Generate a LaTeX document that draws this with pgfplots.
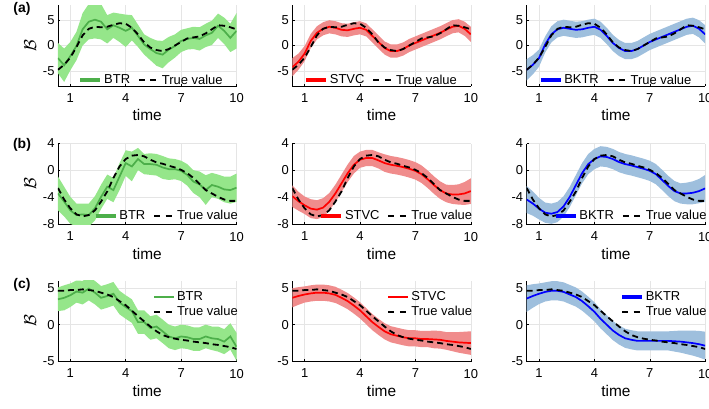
\documentclass[border=0pt]{standalone}
\usepackage{fontspec}
\setmainfont{Liberation Sans}
\usepackage{pgfplots}
\usepackage{pgfplotstable}
\pgfplotsset{compat=1.18}

\definecolor{GLine}{HTML}{4DAF4A}
\definecolor{GBand}{HTML}{95E68A}
\definecolor{RLine}{HTML}{FF0000}
\definecolor{RBand}{HTML}{F08C8C}
\definecolor{BLine}{HTML}{0000FF}
\definecolor{BBand}{HTML}{9EBFDD}

% t, true value, then mean (m) and half width (h) of BTR (b), STVC (s), BKTR (k)
\pgfplotstableread{
t tv bm bh sm sh km kh
0.3333 -4.8 -2.5 3.0 -4.3 1.8 -4.8 2.1
0.6667 -3.8 -3.9 3.3 -3.2 1.6 -3.8 1.9
1.0 -2.4 -2.1 2.8 -1.6 1.5 -2.5 1.7
1.3333 -0.3 -0.1 2.8 0.9 1.4 0.2 1.6
1.6667 2.0 3.2 3.2 2.5 1.3 2.2 1.6
2.0 3.3 4.7 3.5 3.3 1.3 3.2 1.6
2.3333 3.7 5.1 3.7 3.7 1.3 3.5 1.6
2.6667 3.6 4.7 3.5 3.5 1.3 3.3 1.6
3.0 3.7 3.2 2.8 3.1 1.3 3.1 1.6
3.3333 4.1 4.0 2.5 3.0 1.3 3.2 1.6
3.6667 4.4 3.5 2.8 3.3 1.3 3.5 1.6
4.0 4.3 2.9 3.2 3.5 1.3 3.7 1.6
4.3333 3.5 3.5 2.5 3.1 1.3 3.1 1.6
4.6667 2.2 1.9 2.2 1.9 1.3 1.9 1.6
5.0 0.6 0.2 2.0 0.7 1.3 0.5 1.6
5.3333 -0.4 -0.7 2.2 -0.5 1.3 -0.5 1.6
5.6667 -0.9 -1.5 2.5 -1.1 1.3 -1.1 1.6
6.0 -1.1 -1.8 2.7 -1.1 1.3 -1.1 1.6
6.3333 -0.7 -0.8 2.5 -0.7 1.3 -0.7 1.6
6.6667 0.0 -0.1 2.3 0.0 1.3 0.0 1.6
7.0 0.7 0.9 2.2 0.5 1.3 0.7 1.6
7.3333 1.4 1.3 2.1 1.0 1.3 1.2 1.6
7.6667 1.6 1.5 2.2 1.5 1.3 1.7 1.6
8.0 1.8 1.3 2.3 2.0 1.3 2.2 1.6
8.3333 2.4 2.0 2.3 2.5 1.3 2.7 1.6
8.6667 3.2 2.5 2.4 3.1 1.3 3.2 1.6
9.0 4.0 3.9 2.4 3.7 1.3 3.7 1.6
9.3333 3.9 2.9 2.6 3.9 1.3 3.9 1.6
9.6667 3.6 1.5 2.8 3.3 1.4 3.3 1.7
10.0 3.2 2.9 3.5 2.2 1.5 2.2 1.8
}\tabA

\pgfplotstableread{
t tv bm bh sm sh km kh
0.3333 -2.6 -3.4 2.5 -3.8 1.6 -4.3 2.0
0.6667 -4.3 -4.6 2.2 -4.55 1.4 -4.9 1.8
1.0 -5.6 -5.9 2.0 -5.15 1.3 -5.65 1.6
1.3333 -6.5 -6.6 1.7 -5.65 1.4 -6.25 1.5
1.6667 -6.8 -6.5 1.6 -5.8 1.4 -6.4 1.5
2.0 -6.6 -6.6 1.7 -5.5 1.4 -6.15 1.5
2.3333 -5.9 -5.6 1.8 -4.65 1.3 -5.3 1.5
2.6667 -4.6 -3.9 1.8 -3.4 1.3 -3.9 1.5
3.0 -3.1 -2.4 1.8 -1.9 1.3 -2.15 1.5
3.3333 -1.1 -2.9 1.8 -0.4 1.3 -0.4 1.5
3.6667 0.6 -0.9 2.0 0.85 1.3 0.95 1.5
4.0 1.7 1.1 1.9 1.6 1.2 1.7 1.5
4.3333 2.2 0.6 2.2 1.85 1.2 2.1 1.5
4.6667 2.3 1.7 1.65 1.85 1.2 2.0 1.5
5.0 2.1 0.95 1.5 1.5 1.2 1.7 1.5
5.3333 1.6 0.95 1.6 1.1 1.3 1.25 1.5
5.6667 1.2 0.85 1.6 0.85 1.3 0.95 1.5
6.0 1.0 0.45 1.7 0.7 1.3 0.75 1.5
6.3333 0.7 0.2 1.6 0.5 1.3 0.5 1.5
6.6667 0.45 0.2 1.5 0.25 1.3 0.25 1.5
7.0 0.1 -0.05 1.5 -0.05 1.3 -0.05 1.5
7.3333 -0.4 -0.65 1.6 -0.55 1.3 -0.55 1.5
7.6667 -1.1 -1.65 1.7 -1.3 1.3 -1.4 1.5
8.0 -2.0 -2.05 1.9 -2.15 1.3 -2.3 1.5
8.3333 -2.9 -2.9 2.2 -2.9 1.3 -3.05 1.5
8.6667 -3.4 -2.15 1.8 -3.4 1.3 -3.4 1.5
9.0 -3.9 -2.4 1.8 -3.55 1.4 -3.4 1.6
9.3333 -4.3 -2.8 1.9 -3.55 1.5 -3.3 1.7
9.6667 -4.5 -2.9 2.0 -3.4 1.7 -3.05 1.8
10.0 -4.5 -2.55 2.1 -3.05 1.9 -2.65 2.0
}\tabB

\pgfplotstableread{
t tv bm bh sm sh km kh
0.3333 4.6 3.45 1.6 3.65 1.3 3.55 1.8
0.6667 4.6 3.65 1.7 3.9 1.2 3.9 1.6
1.0 4.7 4.0 1.6 4.1 1.1 4.2 1.4
1.3333 4.7 4.5 1.5 4.25 1.1 4.45 1.3
1.6667 4.8 4.35 1.6 4.35 1.1 4.6 1.3
2.0 4.7 4.9 1.6 4.35 1.1 4.6 1.3
2.3333 4.6 4.35 1.6 4.25 1.1 4.45 1.3
2.6667 4.35 3.65 1.6 4.05 1.1 4.1 1.3
3.0 4.1 3.9 1.6 3.65 1.1 3.75 1.3
3.3333 3.75 4.2 1.6 3.2 1.1 3.2 1.3
3.6667 3.2 3.0 1.6 2.6 1.1 2.5 1.3
4.0 2.65 2.4 1.6 1.95 1.1 1.75 1.3
4.3333 1.9 1.85 1.6 1.15 1.1 0.8 1.3
4.6667 1.15 0.35 1.6 0.35 1.1 0.0 1.3
5.0 0.45 0.35 1.6 -0.3 1.1 -0.8 1.3
5.3333 -0.25 -0.45 1.6 -0.9 1.1 -1.4 1.3
5.6667 -0.9 -0.25 1.6 -1.3 1.1 -1.85 1.3
6.0 -1.4 -0.9 1.6 -1.5 1.1 -2.05 1.3
6.3333 -1.7 -1.6 1.6 -1.7 1.1 -2.2 1.3
6.6667 -1.9 -1.85 1.6 -1.85 1.1 -2.2 1.3
7.0 -2.05 -1.6 1.6 -1.85 1.1 -2.2 1.3
7.3333 -2.15 -1.7 1.6 -1.95 1.1 -2.2 1.3
7.6667 -2.3 -1.95 1.6 -1.95 1.1 -2.2 1.3
8.0 -2.4 -1.95 1.6 -2.0 1.2 -2.2 1.3
8.3333 -2.5 -1.6 1.6 -2.05 1.2 -2.25 1.4
8.6667 -2.65 -1.85 1.6 -2.2 1.2 -2.3 1.5
9.0 -2.75 -1.95 1.7 -2.3 1.3 -2.4 1.6
9.3333 -2.9 -2.3 1.7 -2.4 1.4 -2.5 1.7
9.6667 -3.05 -1.6 1.8 -2.45 1.5 -2.65 1.8
10.0 -3.3 -3.0 1.9 -2.5 1.6 -2.85 1.9
}\tabC

\pgfplotsset{
  pan/.style={
    width=178.5bp,height=81bp,scale only axis,anchor=south west,
    xmin=0.3333,xmax=10,xtick={1,4,7,10},
    axis x line*=bottom,axis y line*=left,
    axis line style={-,line width=0.8bp},
    grid=major,grid style={gray!20,line width=0.5bp},
    tick align=inside,major tick length=2.5bp,
    tick style={black,line width=0.6bp},
    ticklabel style={font=\fontsize{13}{13}\selectfont},
    /pgf/number format/assume math mode=true,
    xticklabel style={yshift=-4bp},
    xlabel={time},
    xlabel style={font=\fontsize{15.5}{15.5}\selectfont},
    ylabel style={font=\fontsize{18}{18}\selectfont},
    legend style={draw=none,fill=none,
      font=\fontsize{13}{13}\selectfont,inner sep=1bp},
    legend cell align=left,
  },
  leg a/.style={legend columns=2,
    legend style={at={(rel axis cs:0.94,-0.035)},anchor=south east,
      /tikz/every even column/.append style={column sep=6bp}}},
  leg b/.style={legend columns=2,
    legend style={at={(rel axis cs:1.025,0.0)},anchor=south east,
      /tikz/every even column/.append style={column sep=6bp}}},
  leg c/.style={legend columns=1,
    legend style={at={(rel axis cs:1.025,0.9)},anchor=north east,
      /tikz/every row/.append style={row sep=1bp}}},
}

% band (stacked: lower edge, then width), mean line and true value
\newcommand{\panelbody}[7]{%
  \addplot[draw=none,stack plots=y,forget plot]
    table[x=t,y expr=\thisrow{#2}-\thisrow{#3}]{#1};
  \addplot[fill=#4,draw=none,stack plots=y,forget plot]
    table[x=t,y expr=2*\thisrow{#3}]{#1} \closedcycle;
  \addplot[stack plots=false,color=#5,line width=1.7bp,
    legend image code/.code={\draw[#5,line width=#7] (0bp,0bp) -- (20bp,0bp);}]
    table[x=t,y=#2]{#1};
  \addlegendentry{#6}
  \addplot[stack plots=false,black,line width=1.8bp,dash pattern=on 6bp off 4bp,
    legend image code/.code={\draw[black,line width=1.8bp,dash pattern=on 6bp off 5.5bp] (0bp,0bp) -- (20bp,0bp);}]
    table[x=t,y=tv]{#1};
  \addlegendentry{True value}
}

\begin{document}
\begin{tikzpicture}
\useasboundingbox (0bp,0bp) rectangle (709bp,-409bp);

% row (a)
\begin{axis}[pan,leg a,at={(58bp,-86bp)},ymin=-8,ymax=8,ytick={-5,0,5},ylabel={$\mathcal{B}$}]
\panelbody{\tabA}{bm}{bh}{GBand}{GLine}{BTR}{3.5bp}
\end{axis}
\begin{axis}[pan,leg a,at={(292.3bp,-86bp)},ymin=-8,ymax=8,ytick={-5,0,5}]
\panelbody{\tabA}{sm}{sh}{RBand}{RLine}{STVC}{3.5bp}
\end{axis}
\begin{axis}[pan,leg a,at={(526.7bp,-86bp)},ymin=-8,ymax=8,ytick={-5,0,5}]
\panelbody{\tabA}{km}{kh}{BBand}{BLine}{BKTR}{3.5bp}
\end{axis}

% row (b)
\begin{axis}[pan,leg b,at={(58bp,-224.5bp)},ymin=-8,ymax=4,ytick={-8,-4,0,4},ylabel={$\mathcal{B}$}]
\panelbody{\tabB}{bm}{bh}{GBand}{GLine}{BTR}{3.5bp}
\end{axis}
\begin{axis}[pan,leg b,at={(292.3bp,-224.5bp)},ymin=-8,ymax=4,ytick={-8,-4,0,4}]
\panelbody{\tabB}{sm}{sh}{RBand}{RLine}{STVC}{3.5bp}
\end{axis}
\begin{axis}[pan,leg b,at={(526.7bp,-224.5bp)},ymin=-8,ymax=4,ytick={-8,-4,0,4}]
\panelbody{\tabB}{km}{kh}{BBand}{BLine}{BKTR}{3.5bp}
\end{axis}

% row (c)
\begin{axis}[pan,leg c,at={(58bp,-361.5bp)},ymin=-5,ymax=6,ytick={-5,0,5},ylabel={$\mathcal{B}$}]
\panelbody{\tabC}{bm}{bh}{GBand}{GLine}{BTR}{2bp}
\end{axis}
\begin{axis}[pan,leg c,at={(292.3bp,-361.5bp)},ymin=-5,ymax=6,ytick={-5,0,5}]
\panelbody{\tabC}{sm}{sh}{RBand}{RLine}{STVC}{2bp}
\end{axis}
\begin{axis}[pan,leg c,at={(526.7bp,-361.5bp)},ymin=-5,ymax=6,ytick={-5,0,5}]
\panelbody{\tabC}{km}{kh}{BBand}{BLine}{BKTR}{3.5bp}
\end{axis}

\node[font=\bfseries\fontsize{14}{14}\selectfont] at (22bp,-8.5bp) {(a)};
\node[font=\bfseries\fontsize{14}{14}\selectfont] at (22bp,-145bp) {(b)};
\node[font=\bfseries\fontsize{14}{14}\selectfont] at (22bp,-285bp) {(c)};
\end{tikzpicture}
\end{document}
